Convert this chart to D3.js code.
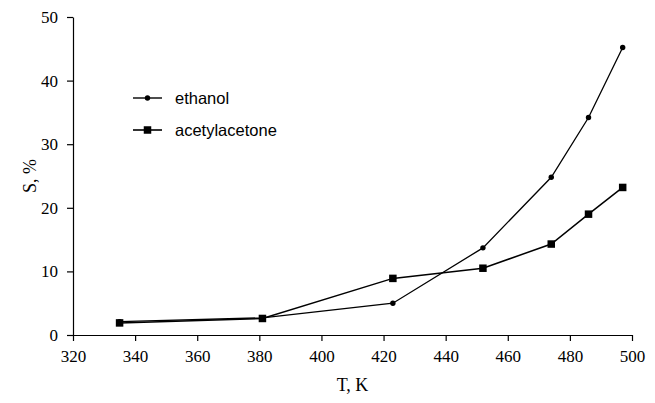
<!DOCTYPE html>
<html>
<head>
<meta charset="utf-8">
<script src="https://cdn.jsdelivr.net/npm/d3@7"></script>
<style>
  html, body { margin: 0; padding: 0; background: #fff; }
  svg { display: block; }
</style>
</head>
<body>
<svg id="chart" width="655" height="403"></svg>
<script>
// Temperature (K) and selectivity S (%) for each solvent
const temperature = [335, 381, 423, 452, 474, 486, 497];
const ethanolS = [2.1, 2.7, 5.0, 13.7, 24.8, 34.2, 45.2];
const acetylacetoneS = [1.9, 2.6, 8.9, 10.5, 14.3, 19.0, 23.2];
const xTicks = [320, 340, 360, 380, 400, 420, 440, 460, 480, 500];
const yTicks = [0, 10, 20, 30, 40, 50];

const svg = d3.select("#chart");
const margin = { left: 73, right: 23, top: 17, bottom: 68 };
const W = 655, H = 403;

const x = d3.scaleLinear().domain([320, 500]).range([margin.left, W - margin.right]);
const y = d3.scaleLinear().domain([0, 50]).range([H - margin.bottom, margin.top]);

const serif = "Liberation Serif";
const sans = "Liberation Sans";

// Axes
const xAxis = svg.append("g")
  .attr("transform", `translate(0,${y(0)})`)
  .call(d3.axisBottom(x).tickValues(xTicks).tickSize(6).tickPadding(9).tickSizeOuter(0));
const yAxis = svg.append("g")
  .attr("transform", `translate(${x(320)},0)`)
  .call(d3.axisLeft(y).tickValues(yTicks).tickSize(6).tickPadding(9).tickSizeOuter(0));

[xAxis, yAxis].forEach(g => {
  g.attr("font-family", serif).attr("font-size", 17);
  g.select(".domain").attr("stroke", "#000").attr("stroke-width", 1.2);
  g.selectAll(".tick line").attr("stroke", "#000").attr("stroke-width", 1.2);
  g.selectAll(".tick text")
    .attr("fill", "#000")
    .attr("font-family", serif)
    .attr("font-size", 17);
});

// Axis titles
svg.append("text")
  .attr("x", x(410)).attr("y", 391)
  .attr("text-anchor", "middle")
  .attr("font-family", serif).attr("font-size", 18)
  .text("T, K");
svg.append("text")
  .attr("transform", `translate(36,${y(25)}) rotate(-90)`)
  .attr("text-anchor", "middle")
  .attr("font-family", serif).attr("font-size", 18)
  .text("S, %");

const line = d3.line().x(d => x(d[0])).y(d => y(d[1]));
const ethanol = temperature.map((t, i) => [t, ethanolS[i]]);
const acac = temperature.map((t, i) => [t, acetylacetoneS[i]]);

// Series lines
svg.append("path").datum(acac)
  .attr("d", line).attr("fill", "none").attr("stroke", "#000").attr("stroke-width", 1.5);
svg.append("path").datum(ethanol)
  .attr("d", line).attr("fill", "none").attr("stroke", "#000").attr("stroke-width", 1.3);

// Markers
const sq = 7.5;
svg.selectAll("rect.acac").data(acac).enter().append("rect")
  .attr("class", "acac")
  .attr("x", d => x(d[0]) - sq / 2).attr("y", d => y(d[1]) - sq / 2)
  .attr("width", sq).attr("height", sq).attr("fill", "#000");
svg.selectAll("circle.eth").data(ethanol).enter().append("circle")
  .attr("class", "eth")
  .attr("cx", d => x(d[0])).attr("cy", d => y(d[1]))
  .attr("r", 2.7).attr("fill", "#000");

// Legend
const legend = svg.append("g").attr("transform", "translate(133,0)");
const items = [
  { name: "ethanol", yy: 98, marker: "circle" },
  { name: "acetylacetone", yy: 130, marker: "square" }
];
items.forEach(it => {
  legend.append("line")
    .attr("x1", 0).attr("x2", 29).attr("y1", it.yy).attr("y2", it.yy)
    .attr("stroke", "#000").attr("stroke-width", it.marker === "square" ? 1.6 : 1.4);
  if (it.marker === "circle") {
    legend.append("circle").attr("cx", 14.5).attr("cy", it.yy).attr("r", 2.7).attr("fill", "#000");
  } else {
    legend.append("rect").attr("x", 14.5 - sq / 2).attr("y", it.yy - sq / 2)
      .attr("width", sq).attr("height", sq).attr("fill", "#000");
  }
  legend.append("text")
    .attr("x", 42).attr("y", it.yy + 6)
    .attr("font-family", sans).attr("font-size", 16.5)
    .text(it.name);
});
</script>
</body>
</html>
